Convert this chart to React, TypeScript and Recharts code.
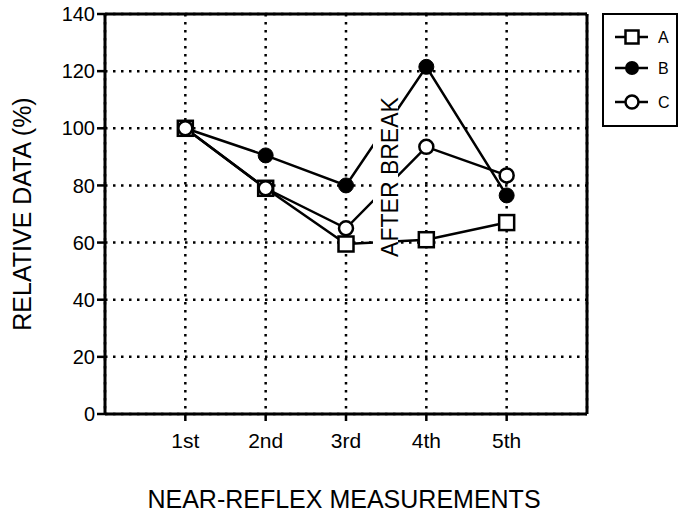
import React from "react";
import {
  LineChart, Line, XAxis, YAxis, CartesianGrid, Legend, ReferenceLine,
} from "recharts";

const FONT = "'Liberation Sans', Arial, Helvetica, sans-serif";

// measurement slots (numeric x so that the axis can run 0..6)
const positions = [1, 2, 3, 4, 5];
const categories = ["1st", "2nd", "3rd", "4th", "5th"];
const seriesA = [100, 79, 59.5, 61, 67];
const seriesB = [100, 90.5, 80, 121.5, 76.5];
const seriesC = [100, 79, 65, 93.5, 83.5];
const yTicks = [0, 20, 40, 60, 80, 100, 120, 140];

const data = positions.map((x, i) => ({
  x,
  label: categories[i],
  A: seriesA[i],
  B: seriesB[i],
  C: seriesC[i],
}));

const SquareDot = (p: any) => {
  if (p.cx == null || p.cy == null) return null;
  return (
    <rect key={`a-${p.index}`} x={p.cx - 7.5} y={p.cy - 7.5} width={15} height={15}
      fill="#fff" stroke="#000" strokeWidth={2.5} />
  );
};

const FilledDot = (p: any) => {
  if (p.cx == null || p.cy == null) return null;
  return <circle key={`b-${p.index}`} cx={p.cx} cy={p.cy} r={7.5} fill="#000" stroke="#000" strokeWidth={1} />;
};

const OpenDot = (p: any) => {
  if (p.cx == null || p.cy == null) return null;
  return <circle key={`c-${p.index}`} cx={p.cx} cy={p.cy} r={7} fill="#fff" stroke="#000" strokeWidth={2.5} />;
};

const LegendBox = () => {
  const rows = [
    { name: "A", y: 24, kind: "square" },
    { name: "B", y: 55, kind: "filled" },
    { name: "C", y: 89, kind: "open" },
  ];
  return (
    <svg width={76} height={114} style={{ display: "block" }}>
      <rect x={1} y={1} width={74} height={112} fill="#fff" stroke="#000" strokeWidth={2} />
      {rows.map((r) => (
        <g key={r.name}>
          <line x1={13} x2={46} y1={r.y} y2={r.y} stroke="#000" strokeWidth={2.5} />
          {r.kind === "square" && (
            <rect x={23.5} y={r.y - 6.5} width={13} height={13} fill="#fff" stroke="#000" strokeWidth={2.5} />
          )}
          {r.kind === "filled" && <circle cx={30} cy={r.y} r={7} fill="#000" />}
          {r.kind === "open" && (
            <circle cx={30} cy={r.y} r={6.5} fill="#fff" stroke="#000" strokeWidth={2.5} />
          )}
          <text x={56} y={r.y} dominantBaseline="central" fontSize={16} fontFamily={FONT} fill="#000">
            {r.name}
          </text>
        </g>
      ))}
    </svg>
  );
};

const YLabel = (props: any) => {
  const vb = props.viewBox || {};
  const cx = 22;
  const cy = vb.y + vb.height / 2;
  return (
    <text x={cx} y={cy} transform={`rotate(-90 ${cx} ${cy})`} textAnchor="middle"
      dominantBaseline="central" fontSize={25} fontFamily={FONT} fill="#000">
      RELATIVE DATA (%)
    </text>
  );
};

const XLabel = (props: any) => {
  const vb = props.viewBox || {};
  return (
    <text x={vb.x + vb.width / 2 - 2} y={508} textAnchor="middle" fontSize={25}
      fontFamily={FONT} fill="#000">
      NEAR-REFLEX MEASUREMENTS
    </text>
  );
};

export default function App() {
  return (
    <div style={{ position: "absolute", left: 0, top: 0, width: 680, height: 513, background: "#fff" }}>
      <LineChart
        width={680}
        height={513}
        data={data}
        margin={{ top: 14, right: 93, bottom: 39, left: 0 }}
      >
        <CartesianGrid stroke="#000" strokeWidth={2.5} strokeDasharray="2.5 5.5" />
        <XAxis
          type="number"
          dataKey="x"
          domain={[0, 6]}
          ticks={positions}
          tickFormatter={(v) => categories[v - 1] ?? ""}
          height={60}
          stroke="#000"
          axisLine={{ stroke: "#000", strokeWidth: 3 }}
          tickLine={{ stroke: "#000", strokeWidth: 2.5 }}
          tickSize={7}
          tickMargin={12}
          tick={{ fill: "#000", fontSize: 21, fontFamily: FONT }}
          label={<XLabel />}
        />
        <YAxis
          domain={[0, 140]}
          ticks={yTicks}
          width={105}
          stroke="#000"
          axisLine={{ stroke: "#000", strokeWidth: 3 }}
          tickLine={{ stroke: "#000", strokeWidth: 2.5 }}
          tickSize={8}
          tickMargin={2}
          tick={{ fill: "#000", fontSize: 20, fontFamily: FONT }}
          label={<YLabel />}
        />
        <ReferenceLine y={140} stroke="#000" strokeWidth={3} />
        <ReferenceLine x={6} stroke="#000" strokeWidth={3} />
        <Line dataKey="B" stroke="#000" strokeWidth={2.5} dot={FilledDot} isAnimationActive={false} />
        <Line dataKey="A" stroke="#000" strokeWidth={2.5} dot={SquareDot} isAnimationActive={false} />
        <Line dataKey="C" stroke="#000" strokeWidth={2.5} dot={OpenDot} isAnimationActive={false} />
        <Legend
          layout="horizontal"
          verticalAlign="middle"
          align="center"
          content={<LegendBox />}
          wrapperStyle={{ left: 602, top: 13, width: 76, height: 114 }}
        />
      </LineChart>
      {/* annotation over the gap between 3rd and 4th */}
      <svg width={680} height={513} style={{ position: "absolute", left: 0, top: 0, pointerEvents: "none" }}>
        <rect x={373} y={92} width={25} height={170} fill="#fff" />
        <text x={390} y={177} transform="rotate(-90 390 177)" textAnchor="middle"
          dominantBaseline="central" fontSize={23} fontFamily={FONT} fill="#000">
          AFTER BREAK
        </text>
      </svg>
    </div>
  );
}
